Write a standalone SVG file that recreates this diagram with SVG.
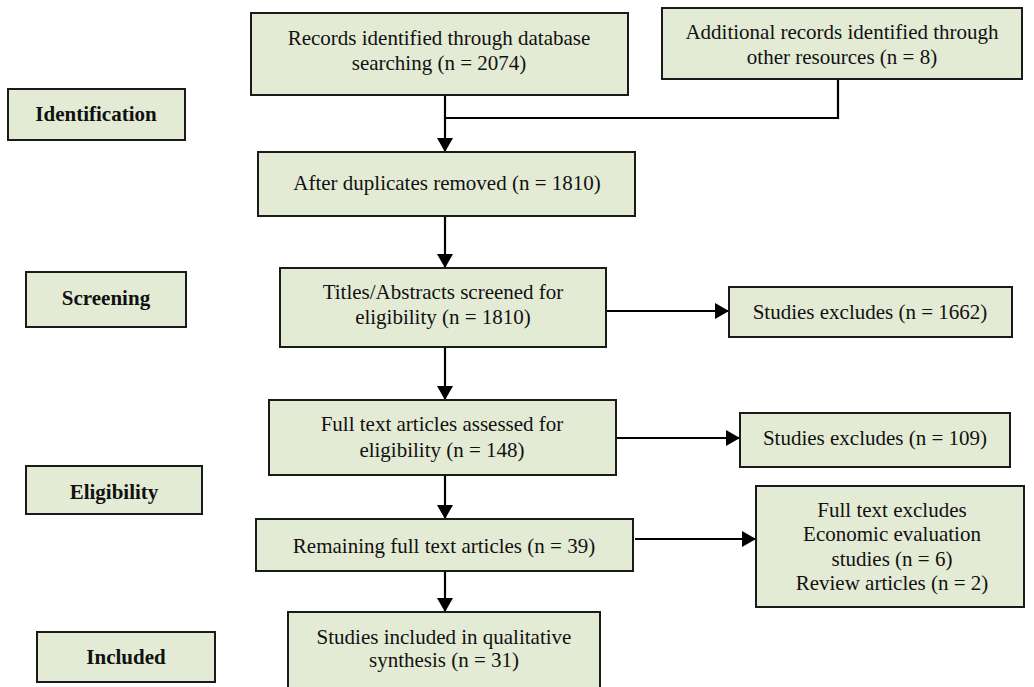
<svg xmlns="http://www.w3.org/2000/svg" width="1034" height="687" viewBox="0 0 1034 687">
<style>
.box{fill:#e4ebd5;stroke:#1a1a1a;stroke-width:2}
.t{font-family:"Liberation Serif","Times New Roman",serif;font-size:21px;fill:#111;text-anchor:middle}
.b{font-weight:bold}
.c{stroke:#000;stroke-width:2.2;fill:none}
</style>
<defs>
<marker id="ah2" viewBox="0 0 14 16" markerWidth="14" markerHeight="16" refX="14" refY="8" orient="auto" markerUnits="userSpaceOnUse">
<path d="M0,0 L14,8 L0,16 z" fill="#000"/>
</marker>
</defs>
<rect width="1034" height="687" fill="#fff"/>
<g id="connectors">
<line class="c" x1="445" y1="95" x2="445" y2="152" marker-end="url(#ah2)"/>
<polyline class="c" points="838,79 838,118 445,118"/>
<line class="c" x1="445" y1="216" x2="445" y2="268" marker-end="url(#ah2)"/>
<line class="c" x1="445" y1="347" x2="445" y2="400" marker-end="url(#ah2)"/>
<line class="c" x1="445" y1="475" x2="445" y2="519" marker-end="url(#ah2)"/>
<line class="c" x1="445" y1="571" x2="445" y2="612" marker-end="url(#ah2)"/>
<line class="c" x1="606" y1="311" x2="729" y2="311" marker-end="url(#ah2)"/>
<line class="c" x1="616" y1="438" x2="740" y2="438" marker-end="url(#ah2)"/>
<line class="c" x1="635" y1="539" x2="756" y2="539" marker-end="url(#ah2)"/>
</g>
<g id="identification"><rect class="box" x="8" y="89" width="177" height="51"/><text class="t b" x="96" y="121">Identification</text></g>
<g id="screening"><rect class="box" x="26" y="272" width="160" height="55"/><text class="t b" x="106" y="305">Screening</text></g>
<g id="eligibility"><rect class="box" x="26" y="466" width="176" height="48"/><text class="t b" x="114" y="499">Eligibility</text></g>
<g id="included"><rect class="box" x="37" y="632" width="178" height="50"/><text class="t b" x="126" y="664">Included</text></g>
<g id="records"><rect class="box" x="251" y="13" width="377" height="82"/><text class="t" x="439" y="45">Records identified through database</text><text class="t" x="439" y="70">searching (n = 2074)</text></g>
<g id="additional"><rect class="box" x="662" y="8" width="360" height="71"/><text class="t" x="842" y="39">Additional records identified through</text><text class="t" x="842" y="64">other resources (n = 8)</text></g>
<g id="duplicates"><rect class="box" x="258" y="152" width="377" height="64"/><text class="t" x="447" y="190">After duplicates removed (n = 1810)</text></g>
<g id="titles"><rect class="box" x="280" y="268" width="326" height="79"/><text class="t" x="443" y="299">Titles/Abstracts screened for</text><text class="t" x="443" y="324">eligibility (n = 1810)</text></g>
<g id="excl1662"><rect class="box" x="729" y="287" width="283" height="50"/><text class="t" x="870" y="319">Studies excludes (n = 1662)</text></g>
<g id="fulltext"><rect class="box" x="269" y="400" width="347" height="75"/><text class="t" x="442" y="431">Full text articles assessed for</text><text class="t" x="442" y="457">eligibility (n = 148)</text></g>
<g id="excl109"><rect class="box" x="740" y="413" width="270" height="54"/><text class="t" x="875" y="445">Studies excludes (n = 109)</text></g>
<g id="remaining"><rect class="box" x="256" y="519" width="377" height="52"/><text class="t" x="444" y="553">Remaining full text articles (n = 39)</text></g>
<g id="fulltextexcl"><rect class="box" x="756" y="486" width="268" height="121"/><text class="t" x="892" y="517">Full text excludes</text><text class="t" x="892" y="541">Economic evaluation</text><text class="t" x="892" y="566">studies (n = 6)</text><text class="t" x="892" y="590">Review articles (n = 2)</text></g>
<g id="studiesincluded"><rect class="box" x="288" y="612" width="312" height="80"/><text class="t" x="444" y="644">Studies included in qualitative</text><text class="t" x="444" y="667">synthesis (n = 31)</text></g>
</svg>
